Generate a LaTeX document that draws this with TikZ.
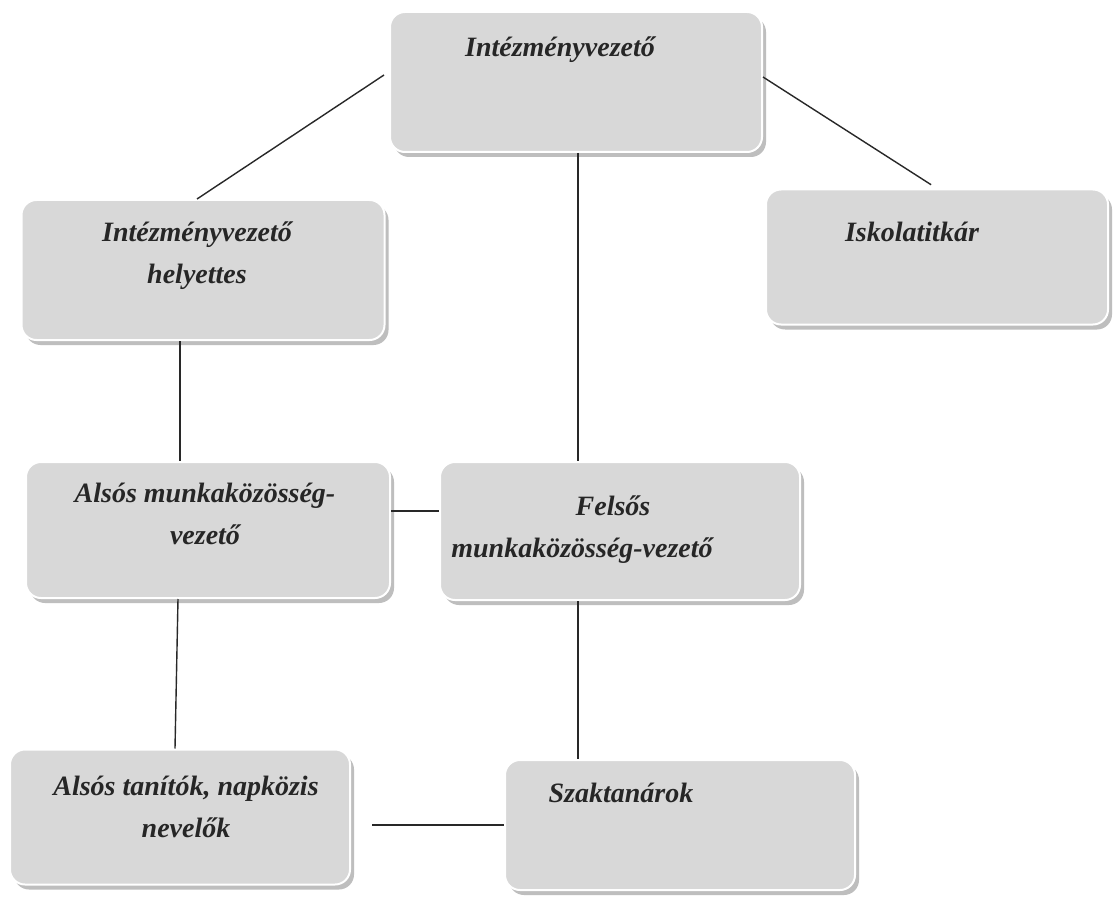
\documentclass[tikz,border=0pt]{standalone}
\usepackage{fontspec}
\setmainfont{Liberation Serif}
\usetikzlibrary{calc}
\definecolor{boxgray}{RGB}{216,216,216}
\definecolor{shadowgray}{RGB}{190,190,190}
\definecolor{linegray}{RGB}{40,40,40}
\tikzset{
  orgbox/.style={fill=boxgray, draw=white, line width=2pt, rounded corners=15pt, inner sep=0pt,
    preaction={fill=shadowgray, rounded corners=15pt, transform canvas={xshift=4pt, yshift=-5pt}}},
  orgtext/.style={font=\fontsize{28}{42}\selectfont\bfseries\itshape, text=black!85, align=center, inner sep=0pt},
  conn/.style={draw=linegray, line width=1.4pt}
}
\begin{document}
\begin{tikzpicture}[x=1pt, y=-1pt]
\useasboundingbox[fill=white] (0,0) rectangle (1116,901);
% boxes
\node[orgbox, minimum width=372pt, minimum height=140pt] (top) at (576,82) {};
\node[orgbox, minimum width=342pt, minimum height=135pt] (isk) at (937,257) {};
\node[orgbox, minimum width=363pt, minimum height=140pt] (hely) at (203,270) {};
\node[orgbox, minimum width=364pt, minimum height=136pt] (alsos) at (208,530) {};
\node[orgbox, minimum width=360pt, minimum height=138pt] (fels) at (620,531) {};
\node[orgbox, minimum width=340pt, minimum height=135pt] (tan) at (180,817) {};
\node[orgbox, minimum width=350pt, minimum height=130pt] (szak) at (680,825) {};
% texts
\node[orgtext] (topT) at (560,50) {Intézményvezető};
\node[orgtext] (iskT) at (912,232) {Iskolatitkár};
\node[orgtext] (helyT) at (197,256) {Intézményvezető\\helyettes};
\node[orgtext] (alsosT) at (205,514) {Alsós munkaközösség-\\vezető};
\node[orgtext] (felsT) at (582,530) {\hspace*{62pt}Felsős\\munkaközösség-vezető};
\node[orgtext] (tanT) at (186,807) {Alsós tanítók, napközis\\nevelők};
\node[orgtext] (szakT) at (621,793) {Szaktanárok};
% connectors
\draw[conn] ([xshift=-5pt,yshift=7pt]top.west) -- ([xshift=-6pt]hely.north);
\draw[conn, shorten >=7pt] ([yshift=5pt]top.east) -- (isk.north);
\draw[conn] ([xshift=2pt]top.south) -- ([xshift=2pt]top.south |- fels.north);
\draw[conn] ([xshift=-23pt]hely.south) -- ([xshift=-23pt]hely.south |- alsos.north);
\draw[conn] ([yshift=19pt]alsos.east) -- ([yshift=19pt]alsos.east -| fels.west);
\draw[conn] ([xshift=-30pt]alsos.south) -- ([xshift=-5pt]tan.north);
\draw[conn] ([xshift=-42pt]fels.south) -- ([xshift=-42pt]fels.south |- szak.north);
\draw[conn, shorten <=21pt] (szak.west -| tan.east) -- (szak.west);
\end{tikzpicture}
\end{document}
